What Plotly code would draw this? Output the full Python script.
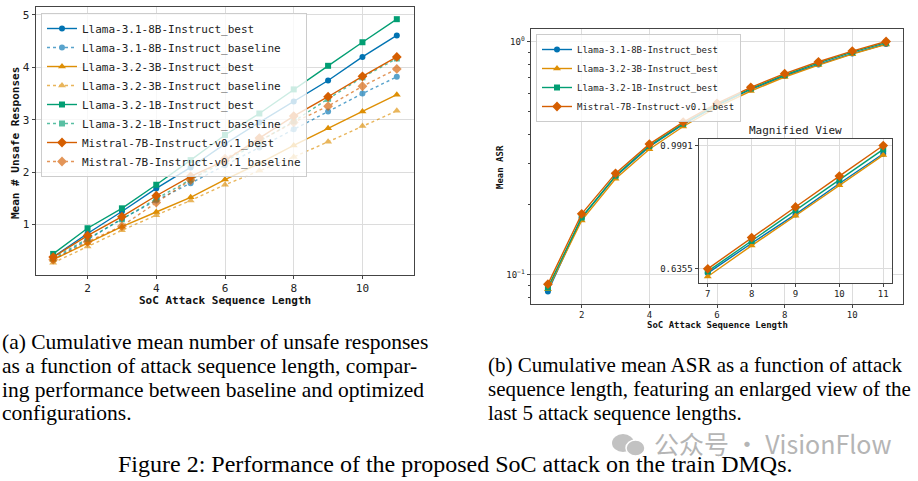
import math
import plotly.graph_objects as go

# ---------------- data ----------------
seq_len = [1, 2, 3, 4, 5, 6, 7, 8, 9, 10, 11]

model_names = ["Llama-3.1-8B-Instruct", "Llama-3.2-3B-Instruct",
               "Llama-3.2-1B-Instruct", "Mistral-7B-Instruct-v0.1"]

# (a) cumulative mean number of unsafe responses
unsafe_best_8b = [0.38, 0.83, 1.25, 1.69, 2.09, 2.54, 2.95, 3.35, 3.75, 4.20, 4.61]
unsafe_base_8b = [0.33, 0.71, 1.11, 1.46, 1.79, 2.13, 2.47, 2.82, 3.16, 3.50, 3.82]
unsafe_best_3b = [0.33, 0.65, 0.96, 1.24, 1.52, 1.86, 2.17, 2.51, 2.84, 3.16, 3.48]
unsafe_base_3b = [0.27, 0.58, 0.89, 1.18, 1.46, 1.76, 2.03, 2.29, 2.58, 2.88, 3.17]
unsafe_best_1b = [0.44, 0.93, 1.31, 1.76, 2.23, 2.71, 3.12, 3.58, 4.03, 4.48, 4.92]
unsafe_base_1b = [0.36, 0.73, 1.10, 1.49, 1.86, 2.20, 2.58, 2.97, 3.40, 3.81, 4.17]
unsafe_best_mis = [0.38, 0.79, 1.15, 1.55, 1.92, 2.22, 2.65, 3.07, 3.44, 3.83, 4.20]
unsafe_base_mis = [0.33, 0.67, 0.97, 1.42, 1.85, 2.26, 2.60, 2.95, 3.26, 3.64, 3.97]

# (b) cumulative mean ASR (best configurations)
asr_8b = [0.0848, 0.176, 0.264, 0.354, 0.441, 0.532, 0.623, 0.711, 0.796, 0.887, 0.975]
asr_3b = [0.0868, 0.171, 0.258, 0.345, 0.432, 0.523, 0.613, 0.704, 0.792, 0.882, 0.971]
asr_1b = [0.0882, 0.176, 0.266, 0.357, 0.444, 0.536, 0.628, 0.718, 0.809, 0.899, 0.988]
asr_mis = [0.0912, 0.1825, 0.272, 0.363, 0.451, 0.543, 0.6355, 0.7276, 0.818, 0.909, 0.9991]

inset_start = 7  # magnified view: last 5 sequence lengths

caption_a = ["(a) Cumulative mean number of unsafe responses",
             "as a function of attack sequence length, compar-",
             "ing performance between baseline and optimized",
             "configurations."]
caption_b = ["(b) Cumulative mean ASR as a function of attack",
             "sequence length, featuring an enlarged view of the",
             "last 5 attack sequence lengths."]
fig_caption = "Figure 2: Performance of the proposed SoC attack on the train DMQs."
watermark = "公众号 · VisionFlow"

# ---------------- styles ----------------
colors = ["#0173B2", "#DE8F05", "#029E73", "#D55E00"]
symbols = ["circle", "triangle-up", "square", "diamond"]
msizes = [6, 7, 6, 7.5]
MONO = "DejaVu Sans Mono"
W, H = 918, 481


def px_x(p):
    return p / W


def px_y(p):
    return 1 - p / H


def pad_range(vals, frac=0.05):
    lo, hi = min(vals), max(vals)
    d = (hi - lo) * frac
    return [lo - d, hi + d]


fig = go.Figure()

# ---------------- panel (a) ----------------
best_a = [unsafe_best_8b, unsafe_best_3b, unsafe_best_1b, unsafe_best_mis]
base_a = [unsafe_base_8b, unsafe_base_3b, unsafe_base_1b, unsafe_base_mis]
for i, name in enumerate(model_names):
    fig.add_trace(go.Scatter(
        x=seq_len, y=best_a[i], mode="lines+markers", name=name + "_best",
        line=dict(color=colors[i], width=1.4),
        marker=dict(symbol=symbols[i], size=msizes[i], color=colors[i]),
        xaxis="x", yaxis="y", legend="legend"))
    fig.add_trace(go.Scatter(
        x=seq_len, y=base_a[i], mode="lines+markers", name=name + "_baseline",
        line=dict(color=colors[i], width=1.4, dash="dot"),
        marker=dict(symbol=symbols[i], size=msizes[i], color=colors[i]),
        opacity=0.65, xaxis="x", yaxis="y", legend="legend"))

# ---------------- panel (b) ----------------
asr_all = [asr_8b, asr_3b, asr_1b, asr_mis]
for i, name in enumerate(model_names):
    fig.add_trace(go.Scatter(
        x=seq_len, y=asr_all[i], mode="lines+markers", name=name + "_best",
        line=dict(color=colors[i], width=1.4),
        marker=dict(symbol=symbols[i], size=msizes[i], color=colors[i]),
        xaxis="x2", yaxis="y2", legend="legend2"))

# ---------------- inset ----------------
k = seq_len.index(inset_start)
inset_vals = []
for i, name in enumerate(model_names):
    inset_vals += asr_all[i][k:]
    fig.add_trace(go.Scatter(
        x=seq_len[k:], y=asr_all[i][k:], mode="lines+markers", name=name + "_best",
        line=dict(color=colors[i], width=1.4),
        marker=dict(symbol=symbols[i], size=msizes[i], color=colors[i]),
        xaxis="x3", yaxis="y3", showlegend=False))

inset_ticks = [asr_mis[k], asr_mis[-1]]

all_asr = [v for s in asr_all for v in s]
log_rng = pad_range([math.log10(v) for v in all_asr])
all_unsafe = [v for s in best_a + base_a for v in s]


def axis_style(size, ticklen=3.5):
    return dict(showline=True, linecolor="#444444", linewidth=1, mirror=True,
                showgrid=True, gridcolor="#dcdcdc", gridwidth=1,
                ticks="outside", ticklen=ticklen, tickcolor="#444444",
                zeroline=False, tickfont=dict(family=MONO, size=size, color="#222222"))


fig.update_layout(
    width=W, height=H,
    margin=dict(l=0, r=0, t=0, b=0),
    paper_bgcolor="white", plot_bgcolor="white",
    xaxis=dict(domain=[px_x(36), px_x(414)], anchor="y",
               range=pad_range(seq_len, 0.05), tickvals=[2, 4, 6, 8, 10], **axis_style(11, 2.5)),
    yaxis=dict(domain=[px_y(275), px_y(7)], anchor="x",
               range=pad_range(all_unsafe), tickvals=[1, 2, 3, 4, 5], **axis_style(11)),
    xaxis2=dict(domain=[px_x(531), px_x(903)], anchor="y2",
                range=pad_range(seq_len, 0.05), tickvals=[2, 4, 6, 8, 10], **axis_style(9, 2.5)),
    yaxis2=dict(domain=[px_y(304), px_y(29)], anchor="x2", type="log",
                range=log_rng, tickvals=[0.1, 1], ticktext=["10<sup>−1</sup>", "10<sup>0</sup>"],
                minor=dict(tickvals=[0.08, 0.09, 0.2, 0.3, 0.4, 0.5, 0.6, 0.7, 0.8, 0.9],
                           ticks="outside", ticklen=2, tickcolor="#444444", showgrid=False),
                **axis_style(9)),
    xaxis3=dict(domain=[px_x(699), px_x(892)], anchor="y3",
                range=pad_range(seq_len[k:], 0.05), tickvals=seq_len[k:], **axis_style(9, 2.5)),
    yaxis3=dict(domain=[px_y(283), px_y(139)], anchor="x3",
                range=pad_range(inset_vals), tickvals=inset_ticks,
                ticktext=["%.4f" % v for v in inset_ticks], **axis_style(9)),
    legend=dict(x=px_x(41), y=px_y(13), xanchor="left", yanchor="top",
                bgcolor="rgba(255,255,255,0.8)", bordercolor="#cccccc", borderwidth=1,
                font=dict(family=MONO, size=11, color="#222222"), tracegroupgap=0),
    legend2=dict(x=px_x(536), y=px_y(34), xanchor="left", yanchor="top",
                 bgcolor="rgba(255,255,255,0.8)", bordercolor="#cccccc", borderwidth=1,
                 font=dict(family=MONO, size=9, color="#222222"), tracegroupgap=0),
)

ann = []


def add_text(text, x, y, size, family, xanchor="center", angle=0, color="#111111", weight="normal"):
    ann.append(dict(text=text, x=px_x(x), y=px_y(y), xref="paper", yref="paper",
                    xanchor=xanchor, yanchor="middle", showarrow=False, textangle=angle,
                    font=dict(family=family, size=size, color=color, weight=weight)))


add_text("SoC Attack Sequence Length", 225, 300, 11, MONO, weight="bold")
add_text("Mean # Unsafe Responses", 15, 143, 11, MONO, angle=-90, weight="bold")
add_text("SoC Attack Sequence Length", 717, 325, 9, MONO, weight="bold")
add_text("Mean ASR", 500, 167, 9, MONO, angle=-90, weight="bold")
add_text("Magnified View", 795, 130, 11, MONO, color="#222222")

for j, line in enumerate(caption_a):
    add_text(line, 0, 342 + j * 23.8, 21.5, "Liberation Serif", xanchor="left", color="#000000")
for j, line in enumerate(caption_b):
    add_text(line, 486, 365 + j * 24, 21, "Liberation Serif", xanchor="left", color="#000000")
add_text(watermark, 652, 443, 25, "Noto Sans CJK SC", xanchor="left", color="#b5b5b5")
add_text(fig_caption, 455, 464, 24, "Liberation Serif", color="#000000")

fig.update_layout(annotations=ann)

# small WeChat-like icon for watermark
fig.add_shape(type="circle", xref="paper", yref="paper", x0=px_x(612), x1=px_x(634),
              y0=px_y(452), y1=px_y(434), fillcolor="#c2c2c2", line=dict(width=0))
fig.add_shape(type="circle", xref="paper", yref="paper", x0=px_x(626), x1=px_x(645),
              y0=px_y(456), y1=px_y(440), fillcolor="#c2c2c2", line=dict(color="white", width=1.5))

fig.write_html("out.html")
